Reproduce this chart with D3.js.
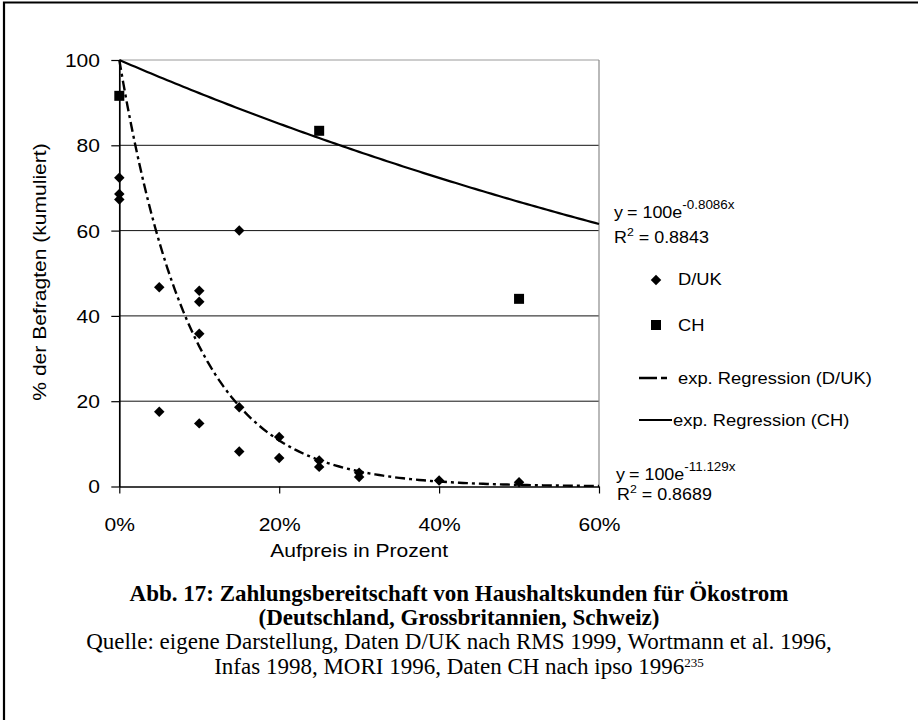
<!DOCTYPE html>
<html>
<head>
<meta charset="utf-8">
<script src="https://cdn.jsdelivr.net/npm/d3@7.9.0/dist/d3.min.js"></script>
<style>
  body { margin: 0; background: #fff; }
  svg { display: block; }
</style>
</head>
<body>
<svg id="chart" width="918" height="720"></svg>
<script>
// values: x = Aufpreis in %, y = % der Befragten (kumuliert)
const dukX = [0, 0, 0, 5, 5, 10, 10, 10, 10, 15, 15, 15, 20, 20, 25, 25, 30, 30, 40, 50];
const dukY = [72.4, 68.6, 67.3, 46.7, 17.5, 45.9, 43.3, 35.8, 14.8, 60.0, 18.6, 8.2, 11.6, 6.7, 6.1, 4.6, 3.2, 2.2, 1.4, 1.0];
const chX = [0, 25, 50];
const chY = [91.6, 83.4, 44.0];

const xTicks = [0, 20, 40, 60];
const yTicks = [0, 20, 40, 60, 80, 100];

// exponential trend lines exactly as printed in the chart (x as a fraction)
const fitCH = { a: 100, k: -0.8086, r2: '0.8843' };
const fitDUK = { a: 100, k: -11.129, r2: '0.8689' };

const legendLabels = ['D/UK', 'CH', 'exp. Regression (D/UK)', 'exp. Regression (CH)'];
const captionTitle = ['Abb. 17: Zahlungsbereitschaft von Haushaltskunden für Ökostrom',
                      '(Deutschland, Grossbritannien, Schweiz)'];
const captionSource = ['Quelle: eigene Darstellung, Daten D/UK nach RMS 1999, Wortmann et al. 1996,',
                       'Infas 1998, MORI 1996, Daten CH nach ipso 1996'];

const SANS = '"Liberation Sans", Arial, sans-serif';
const SERIF = '"Liberation Serif", "Times New Roman", serif';
const STRETCH = 1.17; // chart text in the original is a bit wider than normal

const svg = d3.select('#chart');

// helper: text with a horizontal stretch
function label(parent, x, y, str, o = {}) {
  return parent.append('text')
    .attr('transform', `translate(${x},${y})${o.rotate ? ` rotate(${o.rotate})` : ''} scale(${o.sx ?? 1},1)`)
    .attr('text-anchor', o.anchor || 'start')
    .style('font-family', o.font || SANS)
    .style('font-size', (o.size || 18) + 'px')
    .style('font-weight', o.weight || 'normal')
    .attr('fill', '#000')
    .text(str);
}

// outer frame (runs off the right and bottom of the page)
svg.append('path')
  .attr('d', 'M4,730 V2.5 H930')
  .attr('fill', 'none')
  .attr('stroke', '#000')
  .attr('stroke-width', 2.2);

// scales
const x = d3.scaleLinear().domain([0, 60]).range([119.3, 599]);
const y = d3.scaleLinear().domain([0, 100]).range([486.5, 60]);

// gridlines + plot border
const grid = svg.append('g');
grid.selectAll('line.h')
  .data(yTicks.filter(v => v > 0))
  .join('line')
  .attr('x1', x(0)).attr('x2', x(60))
  .attr('y1', d => y(d)).attr('y2', d => y(d))
  .attr('stroke', d => d === 100 ? '#9a9a9a' : '#111')
  .attr('stroke-width', 1);
grid.append('line')
  .attr('x1', x(60)).attr('x2', x(60))
  .attr('y1', y(100)).attr('y2', y(0))
  .attr('stroke', '#8a8a8a')
  .attr('stroke-width', 1.2);

// axes
const yAxis = svg.append('g')
  .attr('transform', `translate(${x(0)},0)`)
  .call(d3.axisLeft(y).tickValues(yTicks).tickSize(8).tickSizeOuter(0).tickPadding(8.5));
yAxis.selectAll('text')
  .attr('transform', `scale(${STRETCH},1)`)
  .attr('dy', '0.355em')
  .style('font-family', SANS).style('font-size', '18px').attr('fill', '#000');

const xAxis = svg.append('g')
  .attr('transform', `translate(0,${y(0)})`)
  .call(d3.axisBottom(x).tickValues(xTicks).tickSize(7).tickSizeOuter(0).tickPadding(24.7)
    .tickFormat(d => d + '%'));
xAxis.selectAll('text')
  .attr('transform', `scale(${STRETCH},1)`)
  .style('font-family', SANS).style('font-size', '18px').attr('fill', '#000');

svg.selectAll('.domain').attr('stroke', '#000').attr('stroke-width', 1.7);
svg.selectAll('.tick line').attr('stroke', '#000').attr('stroke-width', 1.2);

// axis titles
label(svg, x(30), 557, 'Aufpreis in Prozent', { anchor: 'middle', sx: STRETCH });
label(svg, 46, 272, '% der Befragten (kumuliert)', { anchor: 'middle', rotate: -90, sx: STRETCH });

// trend lines
const curve = fit => d3.range(0, 60.001, 0.5).map(p => [p, fit.a * Math.exp(fit.k * p / 100)]);
const line = d3.line().x(d => x(d[0])).y(d => y(d[1]));

svg.append('path')
  .attr('d', line(curve(fitCH)))
  .attr('fill', 'none').attr('stroke', '#000').attr('stroke-width', 2.2);

svg.append('path')
  .attr('d', line(curve(fitDUK)))
  .attr('fill', 'none').attr('stroke', '#000').attr('stroke-width', 2.4)
  .attr('stroke-dasharray', '10,4,3,4');

// markers
const diamond = d3.symbol().type(d3.symbolSquare).size(55);
const square = d3.symbol().type(d3.symbolSquare).size(100);

svg.append('g').selectAll('path')
  .data(dukX.map((v, i) => [v, dukY[i]]))
  .join('path')
  .attr('d', diamond)
  .attr('transform', d => `translate(${x(d[0])},${y(d[1])}) rotate(45)`)
  .attr('fill', '#000');

svg.append('g').selectAll('path')
  .data(chX.map((v, i) => [v, chY[i]]))
  .join('path')
  .attr('d', square)
  .attr('transform', d => `translate(${x(d[0])},${y(d[1])})`)
  .attr('fill', '#000');

// equations
function equation(px, py, fit, rx, ry) {
  label(svg, px, py, 'y', { size: 16, sx: 1.12 });
  const t = label(svg, px + 13, py, '', { size: 16, sx: 1.12 });
  t.append('tspan').text('= 100e');
  t.append('tspan').attr('dy', -9).style('font-size', '12px').text(fit.k + 'x');
  const r = label(svg, rx, ry, '', { size: 16, sx: 1.12 });
  r.append('tspan').text('R');
  r.append('tspan').attr('dy', -7).style('font-size', '11px').text('2');
  r.append('tspan').attr('dy', 7).text(' = ' + fit.r2);
}
equation(614, 218, fitCH, 614, 243);
equation(616, 480, fitDUK, 617, 500);

// legend
const leg = svg.append('g');
leg.append('path').attr('d', diamond)
  .attr('transform', 'translate(656,280) rotate(45)').attr('fill', '#000');
label(leg, 678, 285, legendLabels[0], { size: 17, sx: 1.08 });
leg.append('path').attr('d', square)
  .attr('transform', 'translate(656,325)').attr('fill', '#000');
label(leg, 678, 331, legendLabels[1], { size: 17, sx: 1.08 });
leg.append('line').attr('x1', 639).attr('x2', 670).attr('y1', 378).attr('y2', 378)
  .attr('stroke', '#000').attr('stroke-width', 2.4).attr('stroke-dasharray', '18,4,6,10');
label(leg, 678, 384, legendLabels[2], { size: 17, sx: 1.08 });
leg.append('line').attr('x1', 639).attr('x2', 672).attr('y1', 420).attr('y2', 420)
  .attr('stroke', '#000').attr('stroke-width', 2.2);
label(leg, 673, 426, legendLabels[3], { size: 17, sx: 1.08 });

// caption
label(svg, 459, 601, captionTitle[0], { anchor: 'middle', font: SERIF, size: 23, weight: 'bold' });
label(svg, 459, 625, captionTitle[1], { anchor: 'middle', font: SERIF, size: 23, weight: 'bold' });
label(svg, 459, 649, captionSource[0], { anchor: 'middle', font: SERIF, size: 23 });
const src2 = label(svg, 459, 674, '', { anchor: 'middle', font: SERIF, size: 23 });
src2.append('tspan').text(captionSource[1]);
src2.append('tspan').attr('dy', -7).style('font-size', '13px').text('235');
</script>
</body>
</html>
